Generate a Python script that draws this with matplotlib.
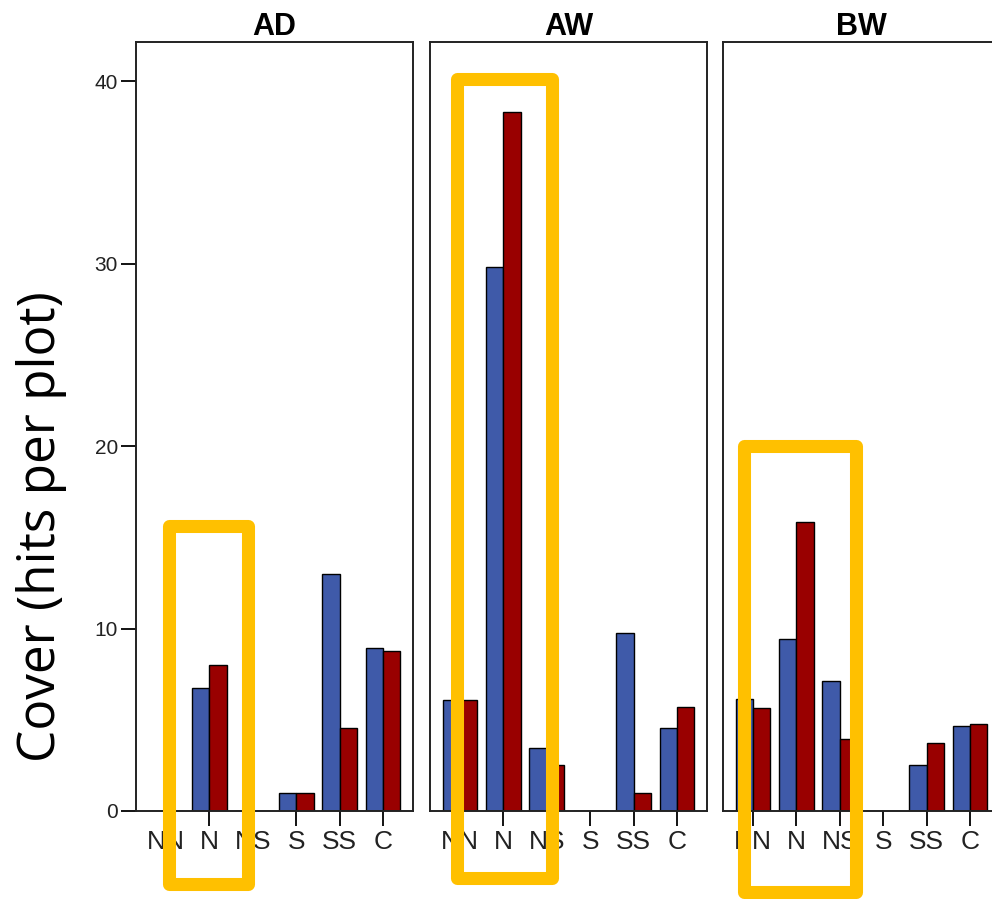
import numpy as np
import matplotlib
matplotlib.use('Agg')
import matplotlib.pyplot as plt
from matplotlib.patches import Rectangle

# data
categories = ['NN', 'N', 'NS', 'S', 'SS', 'C']
panels = ['AD', 'AW', 'BW']
blue_vals = {
    'AD': [0, 6.75, 0, 1.0, 13.0, 8.95],
    'AW': [6.1, 29.8, 3.45, 0, 9.75, 4.55],
    'BW': [6.15, 9.4, 7.1, 0, 2.5, 4.65],
}
red_vals = {
    'AD': [0, 8.0, 0, 1.0, 4.55, 8.75],
    'AW': [6.1, 38.3, 2.5, 0, 1.0, 5.7],
    'BW': [5.65, 15.85, 3.95, 0, 3.75, 4.75],
}
yticks = [0, 10, 20, 30, 40]

W, H = 992, 899
fig = plt.figure(figsize=(W / 100, H / 100), dpi=100)
plt.rcParams['font.family'] = ['Liberation Sans', 'DejaVu Sans']

blue = '#3f5aa9'
red = '#990000'

lefts = [136, 430, 723]
ax_w, ax_top, ax_bot = 277, 42, 811
x = np.arange(len(categories))

for i, p in enumerate(panels):
    ax = fig.add_axes([lefts[i] / W, 1 - ax_bot / H, ax_w / W, (ax_bot - ax_top) / H])
    ax.bar(x - 0.2, blue_vals[p], width=0.4, color=blue, edgecolor='black', linewidth=1.0)
    ax.bar(x + 0.2, red_vals[p], width=0.4, color=red, edgecolor='black', linewidth=1.0)
    ax.set_xlim(-0.69, 5.69)
    ax.set_ylim(0, 42.14)
    ax.set_xticks(x)
    ax.set_xticklabels(categories, fontsize=19, color='#222222')
    ax.tick_params(axis='x', length=11, width=1.3, pad=3)
    for s in ax.spines.values():
        s.set_linewidth(1.4)
        s.set_color('#222222')
    ax.set_title(p, fontsize=22, fontweight='bold', pad=5)
    if i == 0:
        ax.set_yticks(yticks)
        ax.set_yticklabels([str(v) for v in yticks], fontsize=15, color='#222222')
        ax.tick_params(axis='y', length=11, width=1.3, pad=2)
    else:
        ax.set_yticks([])

fig.text(42 / W, 1 - 527 / H, 'Cover (hits per plot)', rotation=90,
         fontsize=37, family=['Open Sans', 'DejaVu Sans'], ha='center', va='center')

# yellow highlight boxes (pixel centerlines)
boxes = [(168.5, 526, 248, 884), (456.5, 78.5, 551.5, 878), (743.5, 446, 855.5, 892)]
for x0, y0, x1, y1 in boxes:
    r = Rectangle((x0 / W, 1 - y1 / H), (x1 - x0) / W, (y1 - y0) / H,
                  transform=fig.transFigure, fill=False, edgecolor='#ffc000',
                  linewidth=9.4, joinstyle='round', clip_on=False, zorder=10)
    fig.patches.append(r)

plt.savefig('out.png', dpi=100)
plt.close()
